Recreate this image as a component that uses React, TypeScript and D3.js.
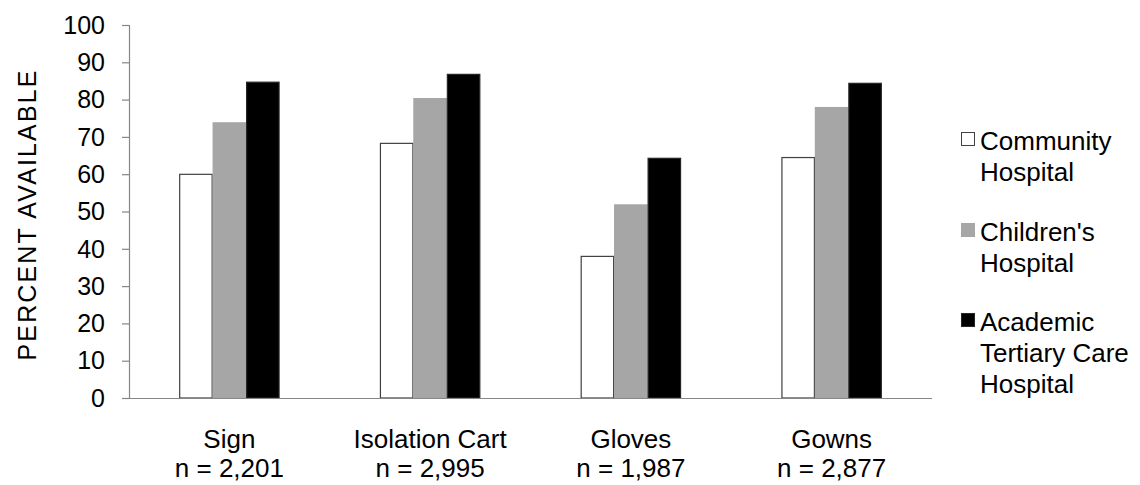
import React from "react";
import * as d3 from "d3";

const categories = ["Sign", "Isolation Cart", "Gloves", "Gowns"];
const sampleSizes = ["n = 2,201", "n = 2,995", "n = 1,987", "n = 2,877"];
const seriesNames = ["Community Hospital", "Children's Hospital", "Academic Tertiary Care Hospital"];
const legendLines = [["Community", "Hospital"], ["Children's", "Hospital"], ["Academic", "Tertiary Care", "Hospital"]];
const community = [60.1, 68.4, 38.1, 64.6];
const childrens = [73.9, 80.4, 51.9, 78.0];
const academic = [84.8, 86.9, 64.4, 84.5];
const seriesValues = [community, childrens, academic];
const yTicks = [0, 10, 20, 30, 40, 50, 60, 70, 80, 90, 100];

const fills = ["#ffffff", "#a6a6a6", "#000000"];
const strokes = ["#404040", "#a6a6a6", "#262626"];
const FONT = "'Liberation Sans', Arial, sans-serif";

export default function App() {
  const W = 1140, H = 485;
  const left = 129, right = 932, top = 25, bottom = 398;
  const x = d3.scaleBand<string>().domain(categories).range([left, right]).paddingInner(0.5).paddingOuter(0.25);
  const sub = d3.scaleBand<string>().domain(seriesNames).range([0, x.bandwidth()]).padding(0);
  const y = d3.scaleLinear().domain([0, 100]).range([bottom, top]);
  const fs = 25;
  const fsL = 26;

  const legendX = 961;
  const legendStarts = [150, 241, 331];
  const lineH = 31;

  return (
    <svg width={W} height={H} style={{ position: "absolute", left: 0, top: 0, background: "#fff" }} fontFamily={FONT}>
      <rect x={0} y={0} width={W} height={H} fill="#fff" />
      {categories.map((c, ci) => (
        <g key={c}>
          {seriesNames.map((s, si) => {
            const v = seriesValues[si][ci];
            const bx = (x(c) ?? 0) + (sub(s) ?? 0);
            return (
              <rect key={s} x={bx + 0.5} y={y(v) + 0.5} width={sub.bandwidth() - 1} height={bottom - y(v) - 0.5}
                fill={fills[si]} stroke={strokes[si]} strokeWidth={1.2} />
            );
          })}
        </g>
      ))}
      <line x1={left + 0.5} x2={left + 0.5} y1={top} y2={bottom} stroke="#868686" strokeWidth={1.2} />
      {yTicks.map((t) => (
        <g key={t}>
          <line x1={left - 7} x2={left} y1={y(t) + 0.5} y2={y(t) + 0.5} stroke="#868686" strokeWidth={1.2} />
          <text x={105} y={y(t)} dy="0.35em" textAnchor="end" fontSize={fs} fill="#000">{t}</text>
        </g>
      ))}
      <line x1={left} x2={right} y1={bottom + 0.5} y2={bottom + 0.5} stroke="#868686" strokeWidth={1.2} />
      {categories.map((c, ci) => {
        const cx = (x(c) ?? 0) + x.bandwidth() / 2;
        return (
          <g key={c}>
            <text x={cx} y={448} textAnchor="middle" fontSize={fsL}>{c}</text>
            <text x={cx} y={477} textAnchor="middle" fontSize={fsL}>{sampleSizes[ci]}</text>
          </g>
        );
      })}
      <text transform={`translate(36, ${(top + bottom) / 2 + 4}) rotate(-90)`} textAnchor="middle" fontSize={fs}
        textLength={290} lengthAdjust="spacing">PERCENT AVAILABLE</text>
      {legendLines.map((lines, li) => (
        <g key={li}>
          <rect x={legendX + 0.5} y={legendStarts[li] - 18 + 0.5} width={13} height={13} fill={fills[li]} stroke={strokes[li]} strokeWidth={1} />
          {lines.map((ln, k) => (
            <text key={k} x={980} y={legendStarts[li] + k * lineH} fontSize={fsL}>{ln}</text>
          ))}
        </g>
      ))}
    </svg>
  );
}
